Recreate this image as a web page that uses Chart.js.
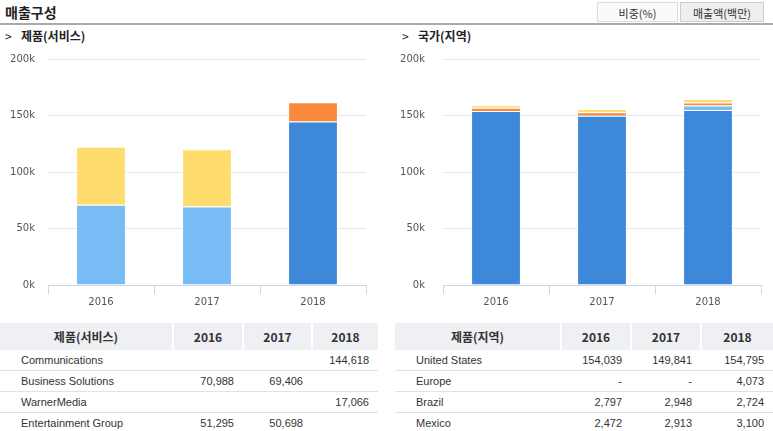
<!DOCTYPE html>
<html>
<head>
<meta charset="utf-8">
<script src="https://cdn.jsdelivr.net/npm/chart.js@4"></script>
<style>
  body { margin: 0; width: 773px; height: 431px; overflow: hidden; background: #fff;
         font-family: "Noto Sans CJK KR", "DejaVu Sans", sans-serif; color: #333; position: relative; }
  .title { position: absolute; left: 5px; top: 2px; font-size: 14px; font-weight: bold; color: #222; }
  .hline { position: absolute; left: 0; top: 23px; width: 773px; height: 2px; background: #aaa; }
  .btn { position: absolute; top: 2px; height: 20px; line-height: 20px; font-size: 11px; text-align: center;
         border: 1px solid #ddd; box-sizing: border-box; color: #333; }
  .sub { position: absolute; top: 27px; font-size: 12px; font-weight: bold; color: #222; }
  .sub span { display: inline-block; width: 16px; font-weight: normal; }
  canvas { position: absolute; }
  table { position: absolute; top: 323px; border-collapse: collapse; table-layout: fixed;
          font-size: 11px; font-family: "Liberation Sans", "Noto Sans CJK KR", sans-serif; }
  th { background: #eef0f3; height: 27px; font-size: 12px; font-weight: bold; color: #333;
       border-left: 2px solid #fff; font-family: "Noto Sans CJK KR", sans-serif; padding: 0; }
  th:first-child { border-left: none; }
  td { height: 20px; border-bottom: 1px solid #e2e2e2; padding: 0 9px 0 0; text-align: right; color: #333; }
  td:first-child { text-align: left; padding-left: 21px; }
</style>
</head>
<body>
<div class="title">매출구성</div>
<div class="btn" style="left:597px;width:81px;background:#fafafa;">비중(%)</div>
<div class="btn" style="left:680px;width:84px;background:#eeeeee;border-color:#ccc;">매출액(백만)</div>
<div class="hline"></div>
<div class="sub" style="left:5px;"><span>&gt;</span>제품(서비스)</div>
<div class="sub" style="left:402px;"><span>&gt;</span>국가(지역)</div>

<canvas id="productChart" width="380" height="268" style="left:0;top:45px;"></canvas>
<canvas id="regionChart" width="385" height="268" style="left:390px;top:45px;"></canvas>

<table id="productTable" style="left:0;width:378px;"></table>
<table id="regionTable" style="left:395px;width:378px;"></table>

<script>
// data (백만)
const years = ['2016', '2017', '2018'];

const productNames = ['Communications', 'Business Solutions', 'WarnerMedia', 'Entertainment Group'];
const communications = [null, null, 144618];
const businessSolutions = [70988, 69406, null];
const warnerMedia = [null, null, 17066];
const entertainmentGroup = [51295, 50698, null];

const regionNames = ['United States', 'Europe', 'Brazil', 'Mexico'];
const unitedStates = [154039, 149841, 154795];
const europe = [null, null, 4073];
const brazil = [2797, 2948, 2724];
const mexico = [2472, 2913, 3100];

const yTicks = [0, 50000, 100000, 150000, 200000];
const colors = ['#3d88d8', '#78bcf6', '#f98a3b', '#ffdc6e'];

function makeChart(id, names, series, axisWidth) {
    const ctx = document.getElementById(id).getContext('2d');
    return new Chart(ctx, {
        type: 'bar',
        data: {
            labels: years,
            datasets: series.map((s, i) => ({
                label: names[i],
                data: s,
                backgroundColor: colors[i],
                borderColor: '#fff',
                borderWidth: 1,
                categoryPercentage: 1,
                barPercentage: 0.47
            }))
        },
        options: {
            responsive: false,
            animation: false,
            layout: { padding: { top: 0, right: 14, left: 0, bottom: 0 } },
            plugins: { legend: { display: false }, tooltip: { enabled: false } },
            scales: {
                x: {
                    stacked: true,
                    grid: { offset: true, drawOnChartArea: false, tickLength: 9, color: '#ccd6eb' },
                    border: { color: '#ccd6eb' },
                    ticks: { color: '#555', font: { family: 'DejaVu Sans', size: 10 }, padding: 2 },
                    afterFit: s => { s.height = 28; }
                },
                y: {
                    stacked: true,
                    min: yTicks[0],
                    max: yTicks[yTicks.length - 1],
                    afterBuildTicks: s => { s.ticks = yTicks.map(v => ({ value: v })); },
                    grid: { color: '#e6e6e6', drawTicks: false },
                    border: { display: false },
                    ticks: {
                        color: '#555', padding: axisWidth - 35,
                        font: { family: 'DejaVu Sans', size: 10 },
                        callback: v => (v / 1000) + 'k'
                    },
                    afterFit: s => { s.width = axisWidth; s.paddingTop = 14; s.paddingBottom = 0; }
                }
            }
        }
    });
}

makeChart('productChart', productNames, [communications, businessSolutions, warnerMedia, entertainmentGroup], 48);
makeChart('regionChart', regionNames, [unitedStates, europe, brazil, mexico], 53);

function fmt(v, dash) {
    if (v === null) return dash ? '-' : '';
    return v.toLocaleString('en-US');
}

function fillTable(id, head, names, series, dash, widths) {
    const t = document.getElementById(id);
    let html = '<colgroup>' + widths.map(w => '<col style="width:' + w + 'px">').join('') + '</colgroup>';
    html += '<tr><th>' + head + '</th>' + years.map(y => '<th>' + y + '</th>').join('') + '</tr>';
    names.forEach((n, i) => {
        html += '<tr><td>' + n + '</td>' + series[i].map(v => '<td>' + fmt(v, dash) + '</td>').join('') + '</tr>';
    });
    t.innerHTML = html;
}

fillTable('productTable', '제품(서비스)', productNames,
    [communications, businessSolutions, warnerMedia, entertainmentGroup], false, [173, 70, 69, 66]);
fillTable('regionTable', '제품(지역)', regionNames,
    [unitedStates, europe, brazil, mexico], true, [166, 70, 70, 72]);
</script>
</body>
</html>
